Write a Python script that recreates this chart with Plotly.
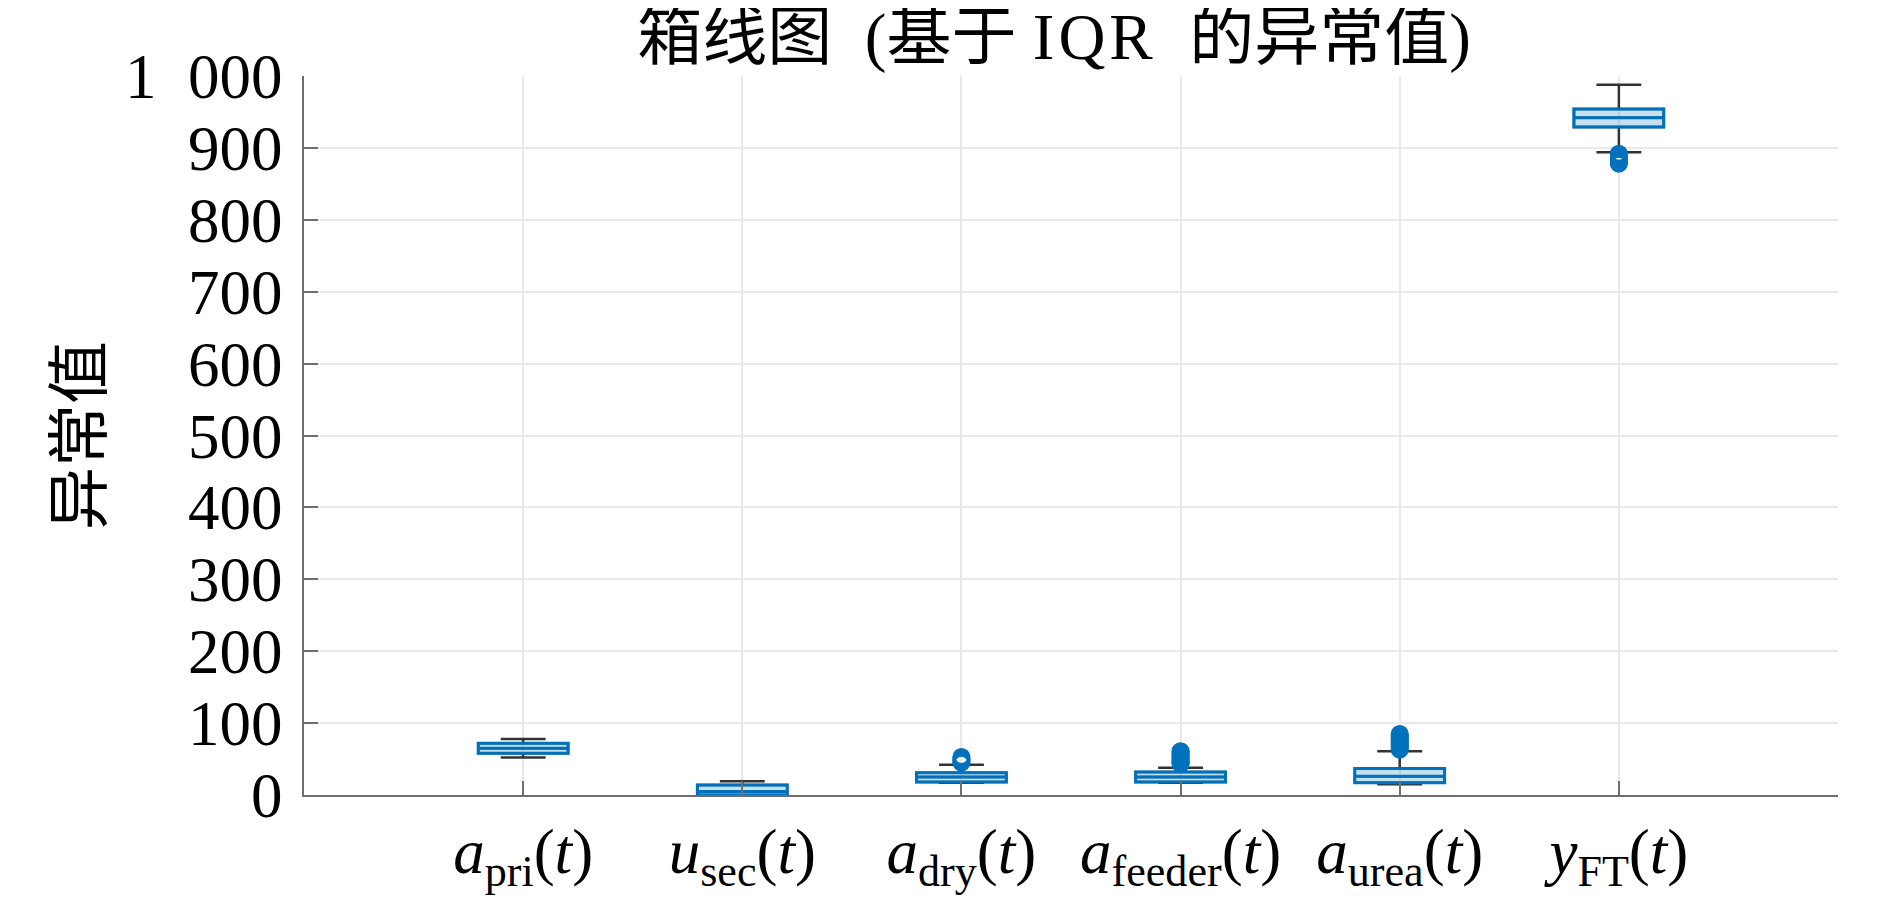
import plotly.graph_objects as go

# ---- data ----
categories = ["a_pri", "u_sec", "a_dry", "a_feeder", "a_urea", "y_FT"]
tick_labels = [
    "<i>a</i><sub>pri</sub>(<i>t</i>)",
    "<i>u</i><sub>sec</sub>(<i>t</i>)",
    "<i>a</i><sub>dry</sub>(<i>t</i>)",
    "<i>a</i><sub>feeder</sub>(<i>t</i>)",
    "<i>a</i><sub>urea</sub>(<i>t</i>)",
    "<i>y</i><sub>FT</sub>(<i>t</i>)",
]
positions = [1, 2, 3, 4, 5, 6]
q1_vals = [58, 0, 18, 18, 17, 929]
median_vals = [65, 5, 25, 25, 26, 942]
q3_vals = [72, 14, 31, 32, 37, 954]
lower_whisker = [52, 0, 17, 17, 15, 894]
upper_whisker = [78, 19, 42, 38, 61, 988]

outliers_a_dry = [45, 47, 49, 51, 53]
outliers_a_feeder = [43, 45, 47, 49, 50, 52, 54, 56, 58, 60, 61]
outliers_a_urea = [63, 65, 67, 69, 71, 73, 75, 77, 79, 81, 83, 85]
outliers_y_ft = [878, 880, 882, 884, 886, 888, 890, 892]
outlier_groups = {3: outliers_a_dry, 4: outliers_a_feeder, 5: outliers_a_urea, 6: outliers_y_ft}

y_ticks = [0, 100, 200, 300, 400, 500, 600, 700, 800, 900, 1000]
y_ticktext = ["0", "100", "200", "300", "400", "500", "600", "700", "800", "900", "1\u2002000"]

title_text = ("箱线图\u2002(基于 <span style='letter-spacing:4px'>IQR</span>"
              "\u2002的异常值)")

BLUE = "#0072BD"
FILL = "rgba(0,114,189,0.22)"
WHISK = "#333333"
FONT = "Liberation Serif, Noto Sans CJK SC, serif"

# the page body adds an 8 px margin around the figure
BODY = 8

fig = go.Figure()

# whiskers (dark grey) drawn first
fig.add_trace(go.Box(
    x=positions, q1=q1_vals, median=median_vals, q3=q3_vals,
    lowerfence=lower_whisker, upperfence=upper_whisker,
    width=0.41, whiskerwidth=0.5,
    line=dict(color=WHISK, width=2.5), fillcolor="rgba(0,0,0,0)",
    showlegend=False, hoverinfo="skip", boxpoints=False,
))
# blue boxes on top
fig.add_trace(go.Box(
    x=positions, q1=q1_vals, median=median_vals, q3=q3_vals,
    lowerfence=q1_vals, upperfence=q3_vals,
    width=0.41, whiskerwidth=0,
    line=dict(color=BLUE, width=3), fillcolor=FILL,
    showlegend=False, boxpoints=False,
))
# outliers
for pos, vals in outlier_groups.items():
    fig.add_trace(go.Scatter(
        x=[pos] * len(vals), y=vals, mode="markers",
        marker=dict(symbol="circle-open", size=15, color=BLUE, line=dict(width=3, color=BLUE)),
        showlegend=False,
    ))

fig.update_layout(
    width=1890, height=905,
    margin=dict(l=304 - BODY, r=52 + BODY, t=76 - BODY, b=110 + BODY, autoexpand=False),
    paper_bgcolor="white", plot_bgcolor="white",
    boxmode="overlay",
    font=dict(family=FONT, color="black"),
    title=dict(text=title_text, xref="container", x=0.5535, xanchor="center",
               yref="container", y=0.969, yanchor="middle",
               font=dict(size=65, family=FONT, color="black")),
)
fig.update_xaxes(
    range=[0, 7], tickmode="array", tickvals=positions, ticktext=tick_labels,
    ticks="inside", ticklen=14, tickwidth=2, tickcolor="#6e6e6e",
    showline=True, linecolor="#6e6e6e", linewidth=2,
    showgrid=True, gridcolor="#e8e8e8", gridwidth=1.5, zeroline=False,
    tickfont=dict(size=63, family=FONT), ticklabelstandoff=0, automargin=False,
)
fig.update_yaxes(
    range=[0, 1000], tickmode="array", tickvals=y_ticks, ticktext=y_ticktext,
    ticks="inside", ticklen=14, tickwidth=2, tickcolor="#6e6e6e",
    showline=True, linecolor="#6e6e6e", linewidth=2,
    showgrid=True, gridcolor="#e8e8e8", gridwidth=1.5, zeroline=False,
    tickfont=dict(size=63, family=FONT), ticklabelstandoff=7, automargin=False,
    title=dict(text="异常值", font=dict(size=63, family=FONT), standoff=3),
)

fig.write_html("out.html")
